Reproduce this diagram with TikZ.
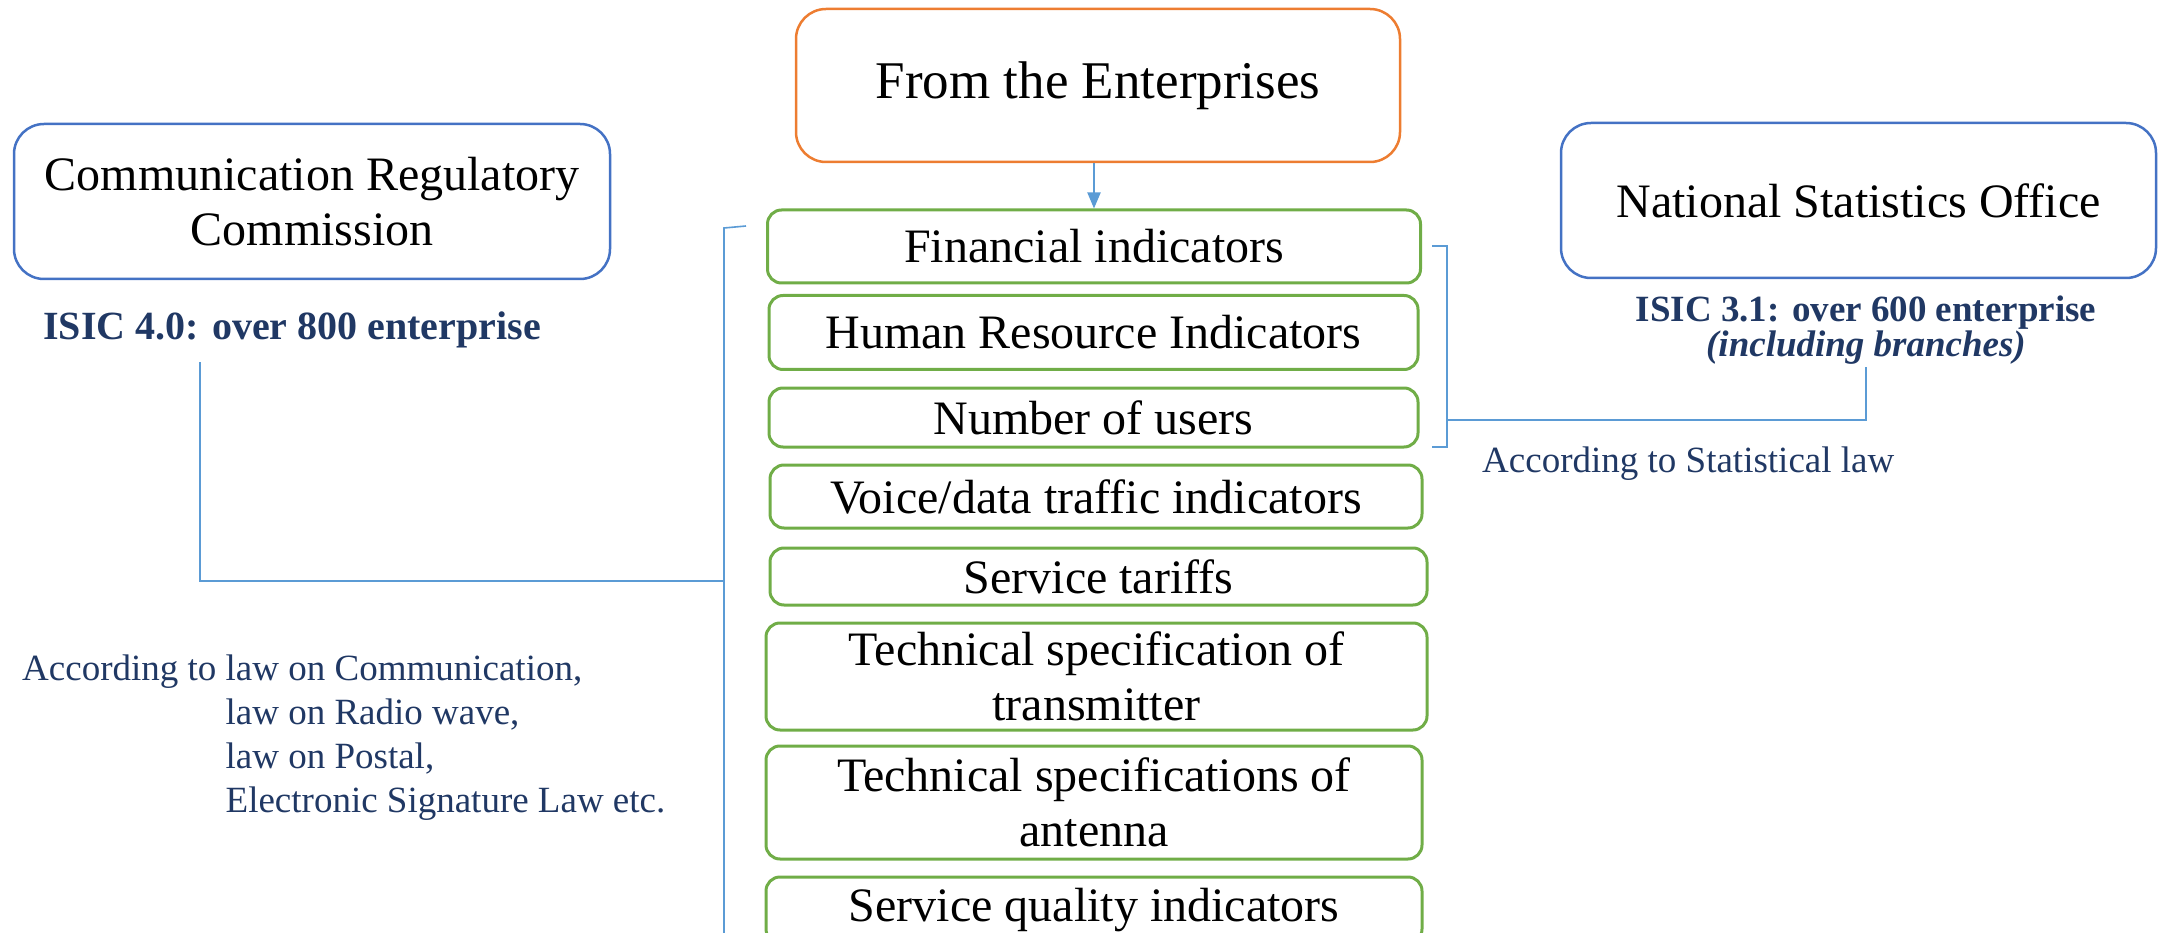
\documentclass[tikz,border=0pt]{standalone}
\usepackage{fontspec}
\setmainfont{Liberation Serif}
\usetikzlibrary{arrows.meta}
\definecolor{navy}{HTML}{203864}
\definecolor{boxblue}{HTML}{4472C4}
\definecolor{boxorange}{HTML}{ED7D31}
\definecolor{boxgreen}{HTML}{70AD47}
\definecolor{linkblue}{HTML}{5B9BD5}
\begin{document}
\begin{tikzpicture}[x=1pt,y=-1pt,
  bigtext/.style={font=\fontsize{48}{55}\selectfont},
  srcbox/.style={draw=boxblue, line width=2.5pt, rounded corners=30pt, inner sep=0pt, align=center, bigtext},
  topbox/.style={draw=boxorange, line width=2.5pt, rounded corners=30pt, inner sep=0pt, align=center, font=\fontsize{53}{60}\selectfont},
  itembox/.style={draw=boxgreen, line width=3pt, rounded corners=14pt, inner sep=0pt, align=center, bigtext},
  note/.style={text=navy, inner sep=0pt, font=\fontsize{37}{44}\selectfont},
  conn/.style={draw=linkblue, line width=1.6pt},
]
\path[use as bounding box] (0,0) rectangle (2164,933);
\clip (0,0) rectangle (2164,933);

% sources
\node[topbox, minimum width=604pt, minimum height=153pt] (src) at (1098,85.5) {From the Enterprises};
\node[srcbox, minimum width=596pt, minimum height=155pt] (crc) at (312,201.5) {Communication Regulatory\\Commission};
\node[srcbox, minimum width=595pt, minimum height=155pt] (nso) at (1858.5,200.5) {National Statistics Office};

% indicator list
\node[itembox, minimum width=653pt, minimum height=73pt] (fin) at (1094,246.5) {Financial indicators};
\node[itembox, minimum width=649pt, minimum height=74pt] (hr) at (1093.5,332.5) {Human Resource Indicators};
\node[itembox, minimum width=649pt, minimum height=59pt] (usr) at (1093.5,417.5) {Number of users};
\node[itembox, minimum width=652pt, minimum height=63pt] (voice) at (1096,496.5) {Voice/data traffic indicators};
\node[itembox, minimum width=657pt, minimum height=57pt] (tariff) at (1098.5,576.5) {Service tariffs};
\node[itembox, minimum width=661pt, minimum height=107pt] (trans) at (1096.5,676.5) {Technical specification of\\transmitter};
\node[itembox, minimum width=656pt, minimum height=113pt] (ant) at (1094,802.5) {Technical specifications of\\antenna};
\node[itembox, minimum width=656pt, minimum height=66pt] (qual) at (1094,910) {Service quality indicators};

% notes (base anchor of a multi-line node sits on its last line)
\node[note, anchor=base west, font=\fontsize{40}{46}\selectfont\bfseries] (isicA) at (43,340) {ISIC 4.0: over 800 enterprise};
\node[note, anchor=base, align=center, font=\fontsize{37}{29}\selectfont\bfseries] (isicB) at (1866,356)
  {ISIC 3.1: over 600 enterprise\\{\itshape (including branches)}};
\node[note, anchor=base west] (statlaw) at (1482,472) {According to Statistical law};
\node[note, anchor=base west, align=left] (laws) at (22,812) {According to law on Communication,\\
  \phantom{According to }law on Radio wave,\\
  \phantom{According to }law on Postal,\\
  \phantom{According to }Electronic Signature Law etc.};

% arrow from the enterprises to the list
\draw[linkblue, line width=2pt, -{Triangle[length=16pt,width=13pt]}] (fin.north |- src.south) -- (fin.north);

% left bracket and its link to the regulator note
\coordinate (lbtick) at (746,226);
\coordinate (lbtop) at (724,228);
\coordinate (lbbot) at (724,945);
\coordinate (lbmid) at (724,581);
\coordinate (lnote) at (200,362);
\draw[conn] (lbtick) -- (lbtop) -- (lbbot);
\draw[conn] (lbmid) -- (lnote |- lbmid) -- (lnote);

% right bracket and its link to the statistics note
\coordinate (rbtt) at (1432,246);
\coordinate (rbtop) at (1447,246);
\coordinate (rbbot) at (1447,447);
\coordinate (rbbt) at (1432,447);
\coordinate (rbmid) at (1447,420);
\coordinate (rnote) at (1866,367);
\draw[conn] (rbtt) -- (rbtop) -- (rbbot) -- (rbbt);
\draw[conn] (rbmid) -- (rnote |- rbmid) -- (rnote);
\end{tikzpicture}
\end{document}
